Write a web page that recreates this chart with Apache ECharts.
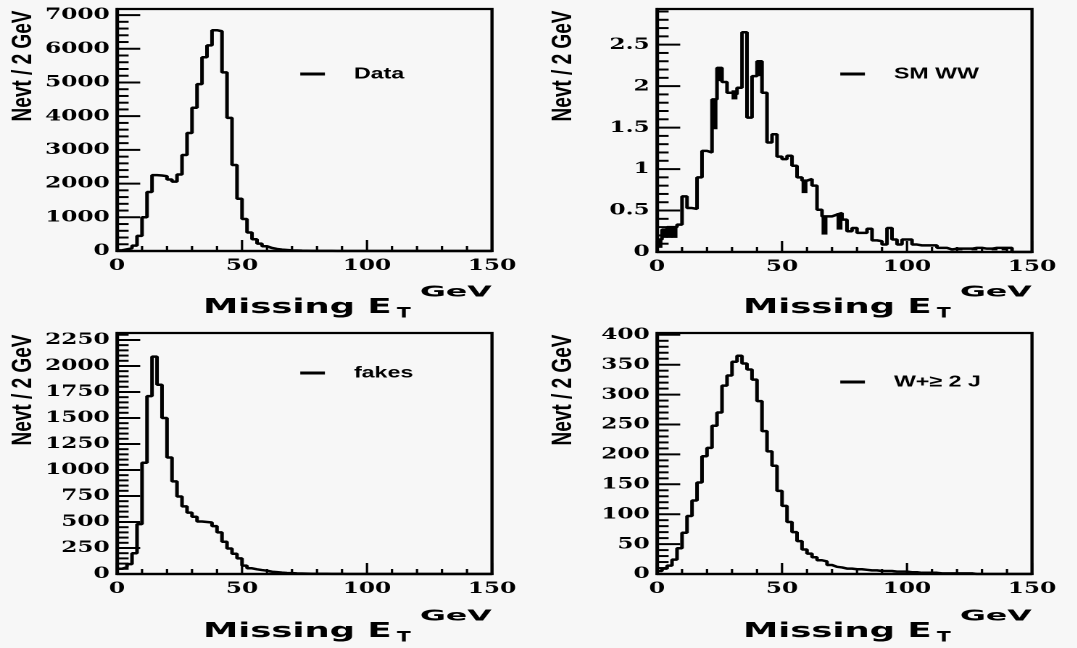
<!DOCTYPE html>
<html>
<head>
<meta charset="UTF-8">
<title>Missing ET</title>
<script src="https://cdn.jsdelivr.net/npm/echarts@6/dist/echarts.min.js"></script>
<style>
    html, body { margin: 0; padding: 0; background: #f7f7f7; overflow: hidden; }
    /* the scan is stretched sideways: draw narrow, widen with css */
    .panel { position: absolute; height: 324px; transform: scaleX(1.45); transform-origin: 0 0; }
</style>
</head>
<body>
<div class="panel" id="p0"></div>
<div class="panel" id="p1"></div>
<div class="panel" id="p2"></div>
<div class="panel" id="p3"></div>
<script>
    var SX = 1.45;
    var BIN = 2;   // GeV per bin, 75 bins 0..150

    var dataHist = [20, 50, 80, 160, 450, 1000, 1750, 2250, 2240, 2220, 2120, 2060, 2270, 2850, 3500,
        4250, 4950, 5750, 6100, 6550, 6520, 5300, 3950, 2550, 1550, 950, 550, 350, 220, 140,
        90, 60, 40, 30, 20, 15, 10, 8, 5, 4, 3, 2, 2, 1, 1,
        1, 0, 0, 0, 0, 0, 0, 0, 0, 0, 0, 0, 0, 0, 0,
        0, 0, 0, 0, 0, 0, 0, 0, 0, 0, 0, 0, 0, 0, 0];

    var wwHist = [0.15, 0.27, 0.3, 0.3, 0.33, 0.67, 0.53, 0.52, 0.9, 1.22, 1.2, 1.84, 2.22, 2.05, 1.92,
        1.9, 1.98, 2.65, 1.62, 2.12, 2.3, 1.92, 1.32, 1.42, 1.15, 1.12, 1.16, 1.04, 0.9, 0.86,
        0.88, 0.8, 0.51, 0.43, 0.43, 0.45, 0.47, 0.39, 0.25, 0.29, 0.23, 0.23, 0.28, 0.14, 0.13,
        0.09, 0.29, 0.15, 0.09, 0.15, 0.15, 0.09, 0.08, 0.08, 0.08, 0.08, 0.05, 0.05, 0.03, 0.04,
        0.04, 0.04, 0.04, 0.05, 0.05, 0.04, 0.04, 0.05, 0.05, 0.05, 0.05, 0, 0, 0, 0];

    // [bin, low, high] of the black error blocks on SM WW
    var wwErr = [[0, 0.05, 0.15], [1, 0.17, 0.27], [2, 0.17, 0.3], [3, 0.17, 0.3], [11, 1.48, 1.84],
        [12, 2.06, 2.22], [15, 1.84, 1.95], [20, 2.12, 2.3], [29, 0.71, 0.86], [33, 0.21, 0.43],
        [36, 0.27, 0.47], [60, 0.02, 0.05], [63, 0.02, 0.05], [67, 0.02, 0.05], [69, 0.02, 0.05]];

    var fakesHist = [50, 65, 95, 200, 480, 1070, 1710, 2090, 1820, 1500, 1120, 890, 745, 650, 590,
        550, 505, 500, 495, 460, 400, 310, 245, 195, 150, 80, 55, 45, 38, 32,
        22, 18, 13, 10, 8, 6, 5, 4, 3, 3, 2, 2, 1, 1, 1,
        0, 0, 0, 0, 0, 0, 0, 0, 0, 0, 0, 0, 0, 0, 0,
        0, 0, 0, 0, 0, 0, 0, 0, 0, 0, 0, 0, 0, 0, 0];

    var wjHist = [5, 9, 14, 24, 43, 69, 97, 123, 153, 197, 211, 248, 270, 315, 332,
        355, 365, 352, 342, 325, 289, 239, 205, 181, 139, 114, 87, 70, 55, 41,
        34, 28, 23, 21, 15, 12, 11, 9, 9, 8, 8, 7, 6, 6, 5,
        5, 5, 4, 4, 4, 3, 3, 2, 2, 2, 2, 1, 1, 1, 1,
        1, 1, 1, 0, 0, 0, 0, 0, 0, 0, 0, 0, 0, 0, 0];

    var names = ['Data', 'SM WW', 'fakes', 'W+\u2265 2 J'];
    var hists = [dataHist, wwHist, fakesHist, wjHist];
    var errs = [null, wwErr, null, null];
    var yMax = [7180, 2.93, 2317, 403];
    var yStep = [1000, 0.5, 250, 50];
    var xStep = 50, xMinor = 10;

    // screen pixels of each panel box and its plot frame
    var panels = [
        {bx: 0,   by: 0,   bw: 540, gx: 117, gy: 9,   h: 242, ly: 69},
        {bx: 540, by: 0,   bw: 537, gx: 657, gy: 9,   h: 243, ly: 69},
        {bx: 0,   by: 324, bw: 540, gx: 117, gy: 333, h: 241, ly: 368},
        {bx: 540, by: 324, bw: 537, gx: 657, gy: 333, h: 241, ly: 377}
    ];

    function px(x) { return x / SX; }

    function stepPoints(vals) {
        var pts = vals.map(function (v, i) { return [i * BIN, v]; });
        pts.push([vals.length * BIN, vals[vals.length - 1]]);
        return pts;
    }

    // inward ticks: [axis (0 = x, 1 = y), value, length]
    function tickItems(i) {
        var items = [], k, s = yStep[i] / 5;
        for (k = 0; k * xMinor <= 150; k++) {
            items.push([0, k * xMinor, (k * xMinor) % xStep === 0 ? 11 : 5]);
        }
        for (k = 0; k * s <= yMax[i] + 1e-9; k++) {
            items.push([1, k * s, k % 5 === 0 ? 16 : 8]);
        }
        return items;
    }

    var labelFont = {color: '#000', fontFamily: 'DejaVu Serif', fontWeight: 'bold', fontSize: 16};

    panels.forEach(function (p, i) {
        var dom = document.getElementById('p' + i);
        dom.style.left = p.bx + 'px';
        dom.style.top = p.by + 'px';
        dom.style.width = px(p.bw) + 'px';

        var ox = p.gx - p.bx;     // frame left inside the box (screen px)
        var oy = p.gy - p.by;     // frame top inside the box
        var ty = oy - 9;          // vertical shift of the texts
        var step = yStep[i];

        var series = [{
            name: names[i], type: 'line', step: 'end',
            data: stepPoints(hists[i]), symbol: 'none', color: '#000',
            lineStyle: {color: '#000', width: 2.5}
        }, {
            // ticks drawn as thin filled boxes
            type: 'custom', silent: true, z: 10, data: tickItems(i),
            renderItem: function (params, api) {
                var onX = api.value(0) === 0, v = api.value(1), len = api.value(2);
                var q = onX ? api.coord([v, 0]) : api.coord([0, v]);
                var shape = onX ? {x: q[0] - 0.8, y: q[1] - len, width: 1.6, height: len}
                                : {x: q[0], y: q[1] - 1, width: len, height: 2};
                return {type: 'rect', shape: shape, style: {fill: '#000'}};
            }
        }];
        if (errs[i]) {
            series.push({
                type: 'custom', silent: true, data: errs[i],
                renderItem: function (params, api) {
                    var b = api.value(0);
                    var p0 = api.coord([b * BIN, api.value(2)]);
                    var p1 = api.coord([(b + 1) * BIN, api.value(1)]);
                    return {type: 'rect',
                        shape: {x: p0[0] - 0.3, y: p0[1], width: p1[0] - p0[0] + 0.6, height: p1[1] - p0[1]},
                        style: {fill: '#000'}};
                }
            });
        }

        var chart = echarts.init(dom, null, {devicePixelRatio: 2});
        chart.setOption({
            animation: false,
            grid: {left: px(ox), top: oy, width: px(375), height: p.h,
                show: true, borderColor: '#000', borderWidth: 2.2},
            xAxis: {
                type: 'value', min: 0, max: 150, interval: xStep,
                axisLine: {show: true, onZero: false, lineStyle: {color: '#000', width: 2.2}},
                splitLine: {show: false}, axisTick: {show: false},
                axisLabel: Object.assign({margin: 7}, labelFont)
            },
            yAxis: {
                type: 'value', min: 0, max: yMax[i], interval: step,
                axisLine: {show: true, onZero: false, lineStyle: {color: '#000', width: 2.2}},
                splitLine: {show: false}, axisTick: {show: false},
                axisLabel: Object.assign({
                    margin: 5,
                    formatter: function (v) {
                        var k = v / step;
                        return Math.abs(k - Math.round(k)) < 1e-6 ? String(v) : '';
                    }
                }, labelFont)
            },
            legend: {
                data: [names[i]], left: px(293 + ox - 117), top: p.ly - p.by - 8, selectedMode: false,
                icon: 'rect', itemWidth: 17, itemHeight: 3,
                textStyle: {color: '#000', fontFamily: 'Liberation Sans', fontWeight: 'bold',
                    fontSize: 16, lineHeight: 16, padding: [0, 0, 0, 15]}
            },
            graphic: [
                {type: 'text', x: px(23.5 + ox - 117), y: 66 + ty, rotation: Math.PI / 2,
                    style: {text: 'Nevt / 2 GeV', fill: '#000', fontFamily: 'Liberation Sans',
                        fontWeight: 'bold', fontSize: 19, align: 'center', verticalAlign: 'middle'}},
                {type: 'text', x: px(203 + ox - 117), y: 307.5 + ty, scaleX: 1.19,
                    style: {text: 'Missing E', fill: '#000', fontFamily: 'DejaVu Sans',
                        fontWeight: 'bold', fontSize: 20.5, align: 'left', verticalAlign: 'middle'}},
                {type: 'text', x: px(397 + ox - 117), y: 314 + ty,
                    style: {text: 'T', fill: '#000', fontFamily: 'DejaVu Sans',
                        fontWeight: 'bold', fontSize: 14, align: 'left', verticalAlign: 'middle'}},
                {type: 'text', x: px(420 + ox - 117), y: 292.5 + ty, scaleX: 1.45,
                    style: {text: 'GeV', fill: '#000', fontFamily: 'DejaVu Sans',
                        fontWeight: 'bold', fontSize: 15, align: 'left', verticalAlign: 'middle'}}
            ],
            series: series
        });
    });
</script>
</body>
</html>
